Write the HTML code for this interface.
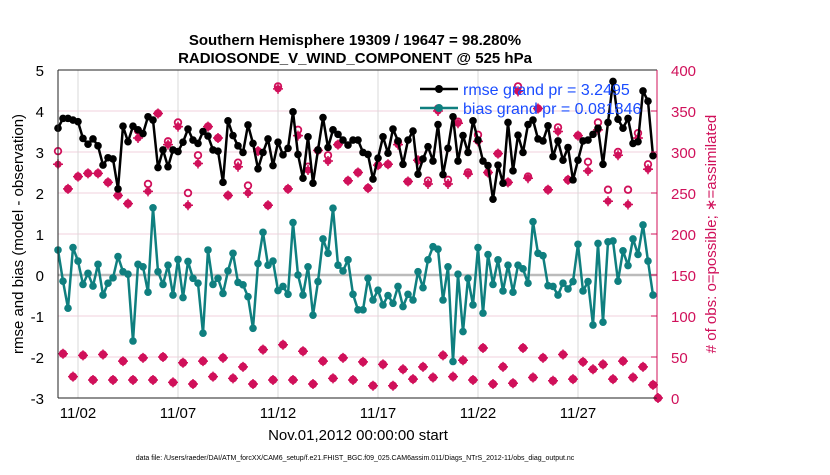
<!DOCTYPE html>
<html><head><meta charset="utf-8"><style>
body{margin:0;background:#fff;font-family:"Liberation Sans",sans-serif}
svg text{font-family:"Liberation Sans",sans-serif}
</style></head><body>
<svg id="chart" width="830" height="470" viewBox="0 0 830 470" xmlns="http://www.w3.org/2000/svg">
<rect width="830" height="470" fill="#fff"/>
<g id="grid"></g>
<g id="marks"></g>
<g id="axes"></g>
<text x="355" y="45" text-anchor="middle" font-size="15" font-weight="bold">Southern Hemisphere 19309 / 19647 = 98.280%</text>
<text x="355" y="63" text-anchor="middle" font-size="15" font-weight="bold">RADIOSONDE_V_WIND_COMPONENT @ 525 hPa</text>
<text transform="translate(23,234) rotate(-90)" text-anchor="middle" font-size="15">rmse and bias (model - observation)</text>
<text transform="translate(716,234) rotate(-90)" text-anchor="middle" font-size="15" fill="#d0105a"># of obs: o=possible; ∗=assimilated</text>
<text x="358" y="440" text-anchor="middle" font-size="15">Nov.01,2012 00:00:00 start</text>
<text x="355" y="460" text-anchor="middle" font-size="7">data file: /Users/raeder/DAI/ATM_forcXX/CAM6_setup/f.e21.FHIST_BGC.f09_025.CAM6assim.011/Diags_NTrS_2012-11/obs_diag_output.nc</text>
<g>
<line x1="420" y1="89" x2="458" y2="89" stroke="#000" stroke-width="2.5"/>
<circle cx="439" cy="89" r="4" fill="#000"/>
<text x="463" y="95" font-size="16" fill="#1a4cff">rmse grand pr = 3.2495</text>
<line x1="420" y1="108" x2="458" y2="108" stroke="#0f7f7f" stroke-width="2.5"/>
<circle cx="439" cy="108" r="4" fill="#0f7f7f"/>
<text x="463" y="114" font-size="16" fill="#1a4cff">bias grand pr = 0.081846</text>
</g>
</svg>
<script>
const rmse=[3.58,3.82,3.82,3.78,3.74,3.33,3.19,3.32,3.15,2.68,2.86,2.83,2.10,3.63,3.25,3.63,3.54,3.45,3.86,3.78,2.62,3.05,2.64,3.05,3.01,3.24,3.56,3.29,3.21,3.50,3.39,
3.05,3.02,2.26,3.76,3.40,3.15,2.99,3.66,3.21,2.59,2.99,3.32,2.67,3.24,2.93,3.09,3.98,2.94,2.36,3.37,2.24,3.05,3.84,3.11,3.54,3.43,3.29,3.17,3.29,3.29,
2.99,2.94,2.34,2.85,3.37,2.97,3.56,3.27,2.70,3.29,3.51,2.46,2.83,3.13,2.78,3.67,2.45,3.09,3.86,2.78,3.40,2.99,3.76,3.29,2.78,2.67,1.85,2.68,2.24,3.72,
2.54,3.41,2.99,3.67,3.78,3.32,3.27,3.64,2.89,3.27,2.80,3.11,2.32,2.80,3.27,3.29,3.43,3.58,2.70,3.72,4.72,3.80,3.58,3.82,3.21,3.25,4.49,4.24,2.91];
const bias=[0.61,-0.15,-0.81,0.67,0.34,-0.23,0.04,-0.27,0.26,-0.49,-0.20,-0.07,0.45,0.08,0.02,-1.61,0.26,0.20,-0.42,1.64,0.08,-0.23,0.24,-0.49,0.38,-0.55,0.33,-0.08,-0.20,-1.42,0.61,
-0.23,-0.08,-0.45,0.10,0.53,-0.18,-0.24,-0.53,-1.30,0.28,1.04,0.24,0.34,-0.38,-0.28,-0.47,1.28,0.00,-0.49,0.20,-0.98,-0.16,0.88,0.53,1.63,0.24,0.10,0.37,-0.47,-0.85,
-0.85,-0.08,-0.61,-0.37,-0.73,-0.50,-0.69,-0.28,-0.77,-0.47,-0.61,0.08,-0.31,0.37,0.69,0.63,-0.61,0.20,-2.11,0.02,-1.38,-0.08,-0.73,0.67,-0.93,0.50,-0.23,0.37,-0.39,0.24,
-0.42,0.24,0.15,-0.20,1.30,0.53,0.47,-0.26,-0.28,-0.49,-0.20,-0.34,-0.16,0.75,-0.39,-0.16,-1.22,0.77,-1.15,0.81,0.83,-0.15,0.59,0.23,0.88,0.50,1.22,0.34,-0.49];
const nAssim=[285,54,255,26,270,52,274,22,274,53,263,22,247,45,237,22,317,49,252,22,347,50,309,19,331,43,235,17,286,45,
331,26,317,49,247,24,282,38,250,17,301,59,235,22,377,65,255,22,320,57,278,17,302,45,289,24,309,49,265,22,
275,44,256,15,284,41,285,15,309,35,264,23,290,38,261,25,350,52,261,26,335,46,273,22,313,61,275,17,298,38,
263,18,374,61,268,25,353,49,254,21,325,53,266,23,320,44,277,35,327,41,240,23,296,45,236,25,317,38,279,16,0];
const nPossible=[301,54,255,26,270,52,274,22,274,53,263,22,247,45,237,22,326,49,261,22,347,50,313,19,336,43,250,17,296,45,
331,26,317,49,247,24,287,38,259,17,301,59,235,22,380,65,255,22,327,57,282,17,302,45,296,24,309,49,265,22,
275,44,256,15,284,41,285,15,312,35,264,23,290,38,265,25,353,52,266,26,337,46,275,22,321,61,275,17,298,38,
263,18,380,61,270,25,353,49,254,21,330,53,266,23,320,44,288,35,336,41,254,23,300,45,254,25,323,38,285,16,0];
const xTickLabels=["11/02","11/07","11/12","11/17","11/22","11/27"];
const xTickDays=[1,6,11,16,21,26];
const leftTicks=[-3,-2,-1,0,1,2,3,4,5];
const rightTicks=[0,50,100,150,200,250,300,350,400];

const NS="http://www.w3.org/2000/svg";
const X0=58,X1=657,Y0=70,Y1=398;
const xDay=d=>X0+d*20;
const xIdx=i=>xDay(i*0.25);
const yL=v=>Y0+(5-v)*(Y1-Y0)/8;
const yR=c=>Y1-c*(Y1-Y0)/400;
const RED="#d0105a",TEAL="#0f7f7f";
function mk(tag,attrs,parent){const e=document.createElementNS(NS,tag);for(const k in attrs)e.setAttribute(k,attrs[k]);parent.appendChild(e);return e;}
const grid=document.getElementById('grid'),marks=document.getElementById('marks'),axes=document.getElementById('axes');

leftTicks.forEach(v=>{
  const l=mk('line',{x1:X0,x2:X1,y1:yL(v),y2:yL(v),stroke:'#f2d0dc','stroke-width':1},grid);
  
  
  const t=mk('text',{x:X0-14,y:yL(v)+6,'text-anchor':'end','font-size':15},axes);
  t.textContent=v;
  
  
});
rightTicks.forEach(c=>{
  const t=mk('text',{x:X1+14,y:yR(c)+6,'font-size':15,fill:RED},axes);
  t.textContent=c;
  
  
  const tk=mk('line',{x1:X1-6,x2:X1,y1:yR(c),y2:yR(c),stroke:RED},axes);
  
  
});
xTickDays.forEach((d,i)=>{
  const l=mk('line',{x1:xDay(d),x2:xDay(d),y1:Y0,y2:Y1,stroke:'#d9d9d9','stroke-width':1},grid);
  
  
  const t=mk('text',{x:xDay(d),y:Y1+20,'text-anchor':'middle','font-size':15},axes);
  t.textContent=xTickLabels[i];
  
  
});
const zl=mk('line',{x1:X0,x2:X1,y1:yL(0),y2:yL(0),stroke:'#bbb','stroke-width':2.5},grid);



nPossible.forEach((c,i)=>{
  const e=mk('circle',{cx:xIdx(i),cy:yR(c),r:3.3,fill:'#fff',stroke:RED,'stroke-width':1.8},marks);
  
  
});
nAssim.forEach((c,i)=>{
  const g=mk('g',{},marks);
  
  
  const x=xIdx(i),y=yR(c);
  mk('circle',{cx:x,cy:y,r:3.6,fill:RED},g);
  mk('path',{d:`M${x-5} ${y}H${x+5}M${x} ${y-5}V${y+5}`,stroke:RED,'stroke-width':1.5},g);
});
function series(vals,color,name){
  const d=vals.map((v,i)=>(i?'L':'M')+xIdx(i).toFixed(1)+' '+yL(v).toFixed(1)).join('');
  const p=mk('path',{d:d,fill:'none',stroke:color,'stroke-width':2.5,'stroke-linejoin':'round'},marks);
  
  
  vals.forEach((v,i)=>{
    const c=mk('circle',{cx:xIdx(i),cy:yL(v),r:3.8,fill:color},marks);
    
    
  });
}
series(bias,TEAL,'bias');
series(rmse,'#000','rmse');

const topBorder=mk('line',{x1:X0,x2:X1,y1:Y0,y2:Y0,stroke:'#222'},axes);


const bot=mk('line',{x1:X0,x2:X1,y1:Y1,y2:Y1,stroke:'#222'},axes);


const la=mk('line',{x1:X0,x2:X0,y1:Y0,y2:Y1,stroke:'#222'},axes);


const ra=mk('line',{x1:X1,x2:X1,y1:Y0,y2:Y1,stroke:RED},axes);


</script>
</body></html>
